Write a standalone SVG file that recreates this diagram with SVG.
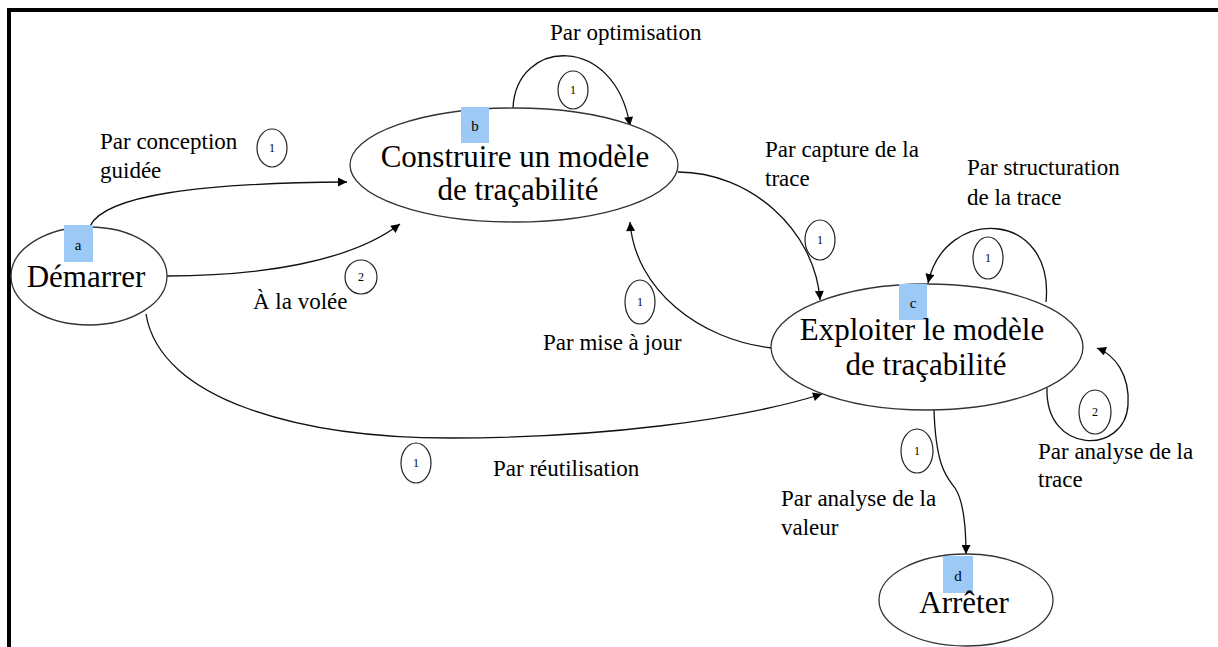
<svg xmlns="http://www.w3.org/2000/svg" width="1218" height="647" viewBox="0 0 1218 647">
<defs>
<style>
.node{fill:#fff;stroke:#333;stroke-width:1.3}
.tag{fill:#9CC9F5}
.main{font-family:"Liberation Serif","Times New Roman",serif;font-size:31px;fill:#000;text-anchor:middle}
.lbl{font-family:"Liberation Serif","Times New Roman",serif;font-size:23px;fill:#000}
.letter{font-family:"Liberation Serif","Times New Roman",serif;font-size:15px;fill:#000;text-anchor:middle}
.num{fill:#fff;stroke:#222;stroke-width:1.2}
.numt{font-family:"Liberation Serif","Times New Roman",serif;font-size:12px;fill:#000;text-anchor:middle}
.edge{fill:none;stroke:#111;stroke-width:1.3;marker-end:url(#arr)}
</style>
<marker id="arr" viewBox="0 0 10 10" refX="10" refY="5" markerWidth="12" markerHeight="9" markerUnits="userSpaceOnUse" orient="auto">
<path d="M0,0 L10,5 L0,10 z" fill="#000"/>
</marker>
</defs>
<rect width="1218" height="647" fill="#fff"/>
<path d="M9,647 V10 H1218" fill="none" stroke="#000" stroke-width="4"/>

<g id="connectors">
<path class="edge" d="M90,226 C105,195 200,183 347,182"/>
<path class="edge" d="M167,276 C260,276 350,262 400,224"/>
<path class="edge" d="M513,108 C516,38 615,33 630,126"/>
<path class="edge" d="M678,172 C750,172 815,230 820,300"/>
<path class="edge" d="M772,348 C700,340 635,290 630,222"/>
<path class="edge" d="M146,314 C160,400 300,438 450,438 C600,438 740,420 822,394"/>
<path class="edge" d="M1046,302 C1055,210 945,205 928,283"/>
<path class="edge" d="M1047,388 C1045,455 1125,455 1128,405 C1130,375 1115,355 1097,348"/>
<path class="edge" d="M934,410 C936,470 948,478 955,488 C963,500 966,525 966,554"/>
</g>

<g id="labels">
<text class="lbl" x="550" y="40">Par optimisation</text>
<text class="lbl" x="100" y="149">Par conception</text>
<text class="lbl" x="100" y="178">guidée</text>
<text class="lbl" x="253" y="309">À la volée</text>
<text class="lbl" x="765" y="157">Par capture de la</text>
<text class="lbl" x="765" y="186">trace</text>
<text class="lbl" x="967" y="175">Par structuration</text>
<text class="lbl" x="967" y="205">de la trace</text>
<text class="lbl" x="543" y="350">Par mise à jour</text>
<text class="lbl" x="493" y="476">Par réutilisation</text>
<text class="lbl" x="1038" y="459">Par analyse de la</text>
<text class="lbl" x="1038" y="487">trace</text>
<text class="lbl" x="781" y="506">Par analyse de la</text>
<text class="lbl" x="781" y="535">valeur</text>
</g>

<g id="numbers">
<ellipse class="num" cx="272" cy="148" rx="15" ry="19"/><text class="numt" x="272" y="152">1</text>
<ellipse class="num" cx="361" cy="277" rx="16" ry="17"/><text class="numt" x="361" y="281">2</text>
<ellipse class="num" cx="573" cy="90" rx="15" ry="19"/><text class="numt" x="573" y="94">1</text>
<ellipse class="num" cx="820" cy="240" rx="15" ry="20"/><text class="numt" x="820" y="244">1</text>
<ellipse class="num" cx="988" cy="258" rx="15" ry="21"/><text class="numt" x="988" y="262">1</text>
<ellipse class="num" cx="640" cy="302" rx="15" ry="22"/><text class="numt" x="640" y="306">1</text>
<ellipse class="num" cx="1095" cy="412" rx="16" ry="22"/><text class="numt" x="1095" y="416">2</text>
<ellipse class="num" cx="917" cy="451" rx="16" ry="22"/><text class="numt" x="917" y="455">1</text>
<ellipse class="num" cx="416" cy="463" rx="15" ry="20"/><text class="numt" x="416" y="467">1</text>
</g>

<g id="node-a">
<ellipse class="node" cx="89" cy="276" rx="78" ry="49"/>
<rect class="tag" x="64" y="225" width="29" height="37"/>
<text class="letter" x="78" y="250">a</text>
<text class="main" x="86" y="287">Démarrer</text>
</g>

<g id="node-b">
<ellipse class="node" cx="514" cy="165" rx="164" ry="57"/>
<rect class="tag" x="461" y="107" width="28" height="36"/>
<text class="letter" x="475" y="131">b</text>
<text class="main" x="515" y="167">Construire un modèle</text>
<text class="main" x="518" y="200">de traçabilité</text>
</g>

<g id="node-c">
<ellipse class="node" cx="927" cy="347" rx="156" ry="63"/>
<rect class="tag" x="899" y="284" width="28" height="36"/>
<text class="letter" x="913" y="308">c</text>
<text class="main" x="922" y="340">Exploiter le modèle</text>
<text class="main" x="926" y="375">de traçabilité</text>
</g>

<g id="node-d">
<ellipse class="node" cx="966" cy="600" rx="87" ry="46"/>
<rect class="tag" x="943" y="556" width="30" height="37"/>
<text class="letter" x="958" y="581">d</text>
<text class="main" x="964" y="613">Arrêter</text>
</g>
</svg>
